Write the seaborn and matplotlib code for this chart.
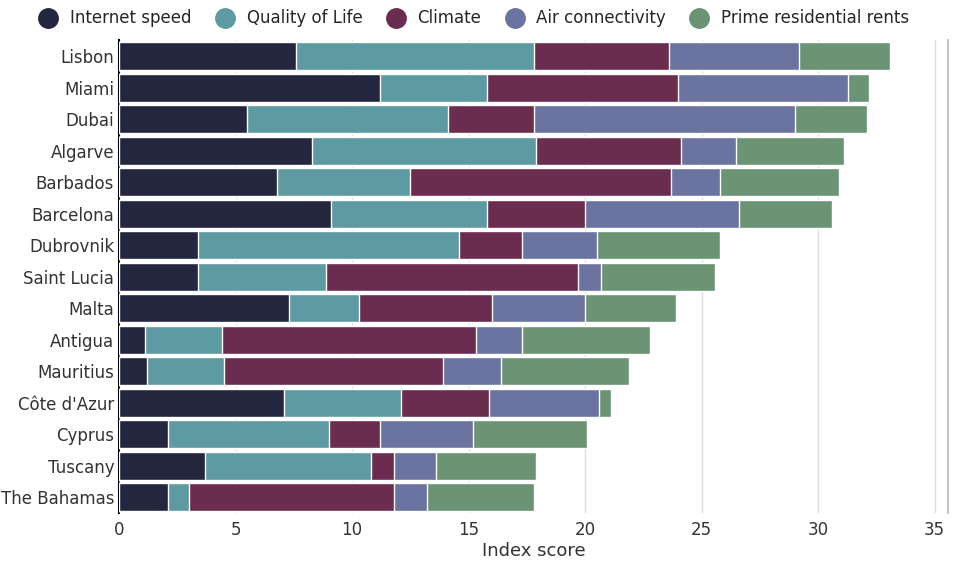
import matplotlib
matplotlib.use("Agg")
import matplotlib.pyplot as plt
import seaborn as sns
import numpy as np
import pandas as pd
from matplotlib.lines import Line2D

cities = ["Lisbon","Miami","Dubai","Algarve","Barbados","Barcelona","Dubrovnik","Saint Lucia",
          "Malta","Antigua","Mauritius","Côte d'Azur","Cyprus","Tuscany","The Bahamas"]
internet = [7.6,11.2,5.5,8.3,6.8,9.1,3.4,3.4,7.3,1.1,1.2,7.1,2.1,3.7,2.1]
quality  = [10.2,4.6,8.6,9.6,5.7,6.7,11.2,5.5,3.0,3.3,3.3,5.0,6.9,7.1,0.9]
climate  = [5.8,8.2,3.7,6.2,11.2,4.2,2.7,10.8,5.7,10.9,9.4,3.8,2.2,1.0,8.8]
air      = [5.6,7.3,11.2,2.4,2.1,6.6,3.2,1.0,4.0,2.0,2.5,4.7,4.0,1.8,1.4]
rents    = [3.9,0.9,3.1,4.6,5.1,4.0,5.3,4.9,3.9,5.5,5.5,0.5,4.9,4.3,4.6]
series = ["Internet speed","Quality of Life","Climate","Air connectivity","Prime residential rents"]
colors = ["#24263f","#5e9aa1","#6a2c4f","#6b73a0","#6a9474"]

sns.set_theme(style="white")
fig, ax = plt.subplots(figsize=(9.6,5.62), dpi=100)
fig.subplots_adjust(left=0.124, right=0.988, top=0.928, bottom=0.087)

vals = np.array([internet,quality,climate,air,rents])
cum = np.cumsum(vals, axis=0)
for i in range(4,-1,-1):
    df = pd.DataFrame({"city":cities,"v":cum[i]})
    sns.barplot(data=df, x="v", y="city", color=colors[i], saturation=1, width=0.88, ax=ax, zorder=3)

ax.set_xlim(0,35.6)
ax.set_xticks(range(0,36,5))
ax.grid(axis="x", color="#dddddd", lw=1, zorder=0)
ax.set_axisbelow(True)
for s in ["top","bottom"]:
    ax.spines[s].set_visible(False)
ax.spines["left"].set_color("black"); ax.spines["left"].set_linewidth(1.5)
ax.spines["right"].set_color("#bbbbbb")
ax.set_ylabel("")
ax.set_xlabel("Index score", fontsize=13, color="#333333", labelpad=2)
ax.tick_params(axis="both", labelsize=12, colors="#333333", length=0)
ax.tick_params(axis="x", pad=6)
handles = [Line2D([0],[0], marker="o", ls="", markersize=14, markerfacecolor=c, markeredgecolor=c) for c in colors]
fig.legend(handles, series, loc="upper center", bbox_to_anchor=(0.49,1.01), ncol=5, frameon=False,
           fontsize=12, handletextpad=0.3, columnspacing=1.0)
fig.savefig("out.png", dpi=100)
